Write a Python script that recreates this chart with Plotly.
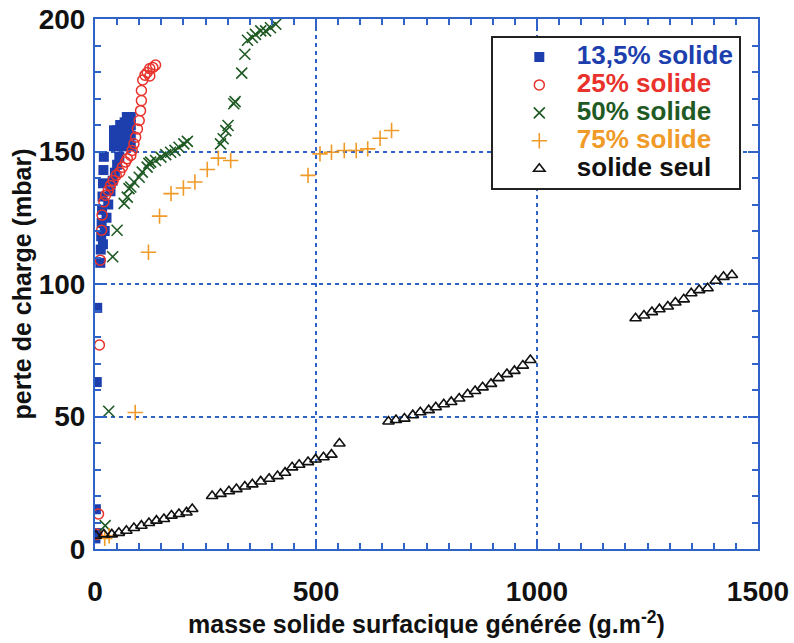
import plotly.graph_objects as go

# ---------------- data ----------------
# 13,5% solide (filled squares)
s135_x = [1, 3, 2, 4, 5,
          12, 13, 14, 15, 16, 17, 18, 19, 20,
          18, 22, 26, 30, 35, 40, 45, 50, 55,
          43, 43, 43, 48, 48, 50, 55, 55, 57, 62, 62, 62, 67, 67, 67,
          72, 72, 72, 72, 77, 77, 77, 77, 81, 81, 81, 81]
s135_y = [4, 6, 15, 63, 91,
          108, 113, 118, 123, 128, 133, 138, 143, 148,
          115, 120, 125, 130, 135, 139, 142, 145, 148,
          152, 155, 158, 152, 156, 158, 153, 157, 160, 152, 156, 160, 153, 157, 161,
          152, 156, 160, 163, 153, 157, 161, 163, 152, 156, 160, 163]

# 25% solide (open circles)
s25_x = [4, 8, 10, 12, 15, 16, 20, 24, 30, 35, 41, 48, 56, 62, 69, 73, 81, 84,
         88, 92, 96, 100, 103, 105, 105, 108, 113, 118, 124, 124, 131, 137]
s25_y = [5.6, 13.2, 77, 109, 120.3, 126, 131, 133.5, 135.3, 137.2, 139.1, 141,
         142.2, 144.1, 146, 147.3, 148.5, 150.4, 152.9, 155.4, 158.5, 161.7, 165.4,
         169.2, 173, 177, 178.8, 179.8, 178.5, 181.3, 181.7, 182.6]

# 50% solide (crosses x)
s50_x = [23, 31, 40, 50, 66, 73, 77, 81, 88, 100, 107, 118, 122, 126, 137, 149, 160,
         171, 181, 190, 201, 209, 284, 290, 296, 301, 314, 317, 332, 339, 345, 356,
         363, 375, 386, 397, 409]
s50_y = [8.8, 52, 110.3, 120.3, 130.4, 132.8, 136.0, 136.6, 138.5, 140.3, 142.2,
         144.1, 145.5, 146, 146.6, 147.9, 148.8, 149.7, 150.4, 151.6, 152.9, 153.8,
         152.9, 154.8, 157.9, 159.8, 168, 168.8, 179.6, 186.7, 192, 193, 194.2,
         195.5, 195.5, 196.7, 198]

# 75% solide (plus)
s75_x = [22, 32, 91, 121, 146, 172, 200, 226, 254, 279, 307, 482, 509, 535, 564,
         591, 617, 645, 671]
s75_y = [4, 5, 51.5, 112, 125.6, 134.1, 136.2, 138.5, 143.2, 147.5, 146.6, 141,
         149.1, 149.7, 150.4, 150.4, 151, 155, 157.9]

# solide seul (open triangles)
seul_x = [2, 20, 38, 54, 71, 88, 105, 122, 139, 156, 173, 190, 207, 220,
          265, 284, 303, 320, 339, 356, 375, 394, 413, 430, 446, 462, 482, 499, 517,
          535, 553,
          664, 681, 700, 719, 736, 755, 771, 789, 806, 824, 843, 860, 877, 896, 913,
          932, 949, 968, 985,
          1223, 1242, 1260, 1277, 1296, 1313, 1332, 1349, 1367, 1386, 1404, 1422, 1441]
seul_y = [5.0, 5.5, 5.5, 6.1, 6.9, 7.9, 8.8, 9.8, 10.7, 11.3, 12.6, 13.2, 13.8, 15.1,
          20.0, 20.8, 21.8, 22.6, 23.6, 24.4, 25.5, 26.5, 27.5, 28.8, 30.8, 31.8,
          32.8, 33.8, 34.6, 35.6, 39.8,
          48.1, 48.7, 49.2, 50.5, 51.6, 52.4, 53.5, 54.6, 55.5, 56.8, 58.4, 59.6,
          61.0, 62.3, 64.5, 66.0, 67.2, 69.2, 71.3,
          87.1, 88.1, 89.4, 90.5, 91.5, 93.0, 94.2, 96.5, 97.7, 98.4, 101.2, 102.7,
          103.4]

series_names = ["13,5% solide", "25% solide", "50% solide", "75% solide", "solide seul"]
x_ticks = [0, 500, 1000, 1500]
y_ticks = [0, 50, 100, 150, 200]

BLUE_AX = "#2f63c8"
C_BLUE = "#1d3fae"
C_RED = "#e8322b"
C_GREEN = "#1f5a24"
C_ORANGE = "#f09a28"
C_BLACK = "#111111"
FONT = "Liberation Sans, Arial, Helvetica, sans-serif"


def lab(text, color):
    return "<span style='font-size:26px;color:%s'><b>%s</b></span>" % (color, text)


fig = go.Figure()
fig.add_trace(go.Scatter(x=s135_x, y=s135_y, mode="markers", name=lab(series_names[0], C_BLUE),
                         marker=dict(symbol="square", size=10, color=C_BLUE, line=dict(width=0))))
fig.add_trace(go.Scatter(x=s25_x, y=s25_y, mode="markers", name=lab(series_names[1], C_RED),
                         marker=dict(symbol="circle-open", size=10, color=C_RED, line=dict(width=1.5))))
fig.add_trace(go.Scatter(x=s50_x, y=s50_y, mode="markers", name=lab(series_names[2], C_GREEN),
                         marker=dict(symbol="x-thin-open", size=11, color=C_GREEN, line=dict(width=1.6, color=C_GREEN))))
fig.add_trace(go.Scatter(x=s75_x, y=s75_y, mode="markers", name=lab(series_names[3], C_ORANGE),
                         marker=dict(symbol="cross-thin-open", size=11, color=C_ORANGE, line=dict(width=1.6, color=C_ORANGE))))
fig.add_trace(go.Scatter(x=seul_x, y=seul_y, mode="markers", name=lab(series_names[4], C_BLACK),
                         marker=dict(symbol="triangle-up-open", size=10, color=C_BLACK, line=dict(width=1.6))))

axis_common = dict(
    showline=True, linecolor=BLUE_AX, linewidth=2, mirror="allticks",
    ticks="inside", ticklen=10, tickwidth=2, tickcolor=BLUE_AX,
    showgrid=True, gridcolor=BLUE_AX, gridwidth=1.5, griddash="4px,4px",
    zeroline=False, automargin=False, ticklabeloverflow="allow",
    tickfont=dict(family=FONT, size=28, color="#111111", weight="bold"),
)

fig.update_xaxes(range=[0, 1500], tickvals=x_ticks,
                 minor=dict(dtick=50, ticks="inside", ticklen=6, tickwidth=1.5, tickcolor=BLUE_AX, showgrid=False),
                 title=dict(text="masse solide surfacique générée (g.m<sup>-2</sup>)",
                            font=dict(family=FONT, size=25, color="#111111", weight="bold"), standoff=8),
                 ticklabelstandoff=16,
                 **axis_common)
fig.update_yaxes(range=[0, 200], tickvals=y_ticks,
                 minor=dict(dtick=10, ticks="inside", ticklen=6, tickwidth=1.5, tickcolor=BLUE_AX, showgrid=False),
                 title=dict(text="perte de charge (mbar)",
                            font=dict(family=FONT, size=25, color="#111111", weight="bold"), standoff=0),
                 ticklabelstandoff=2,
                 **axis_common)

fig.update_layout(
    width=794, height=643,
    margin=dict(l=95, r=36, t=19, b=94),
    paper_bgcolor="white", plot_bgcolor="white",
    showlegend=True,
    legend=dict(x=0.597, y=0.968, xanchor="left", yanchor="top",
                bgcolor="white", bordercolor="#222222", borderwidth=2,
                font=dict(family=FONT, size=19.2, color="#111111"),
                indentation=9, itemwidth=65),
)

fig.write_html("out.html",
               config={"displayModeBar": False},
               post_script="document.body.style.margin='0';document.body.style.overflow='hidden';")
